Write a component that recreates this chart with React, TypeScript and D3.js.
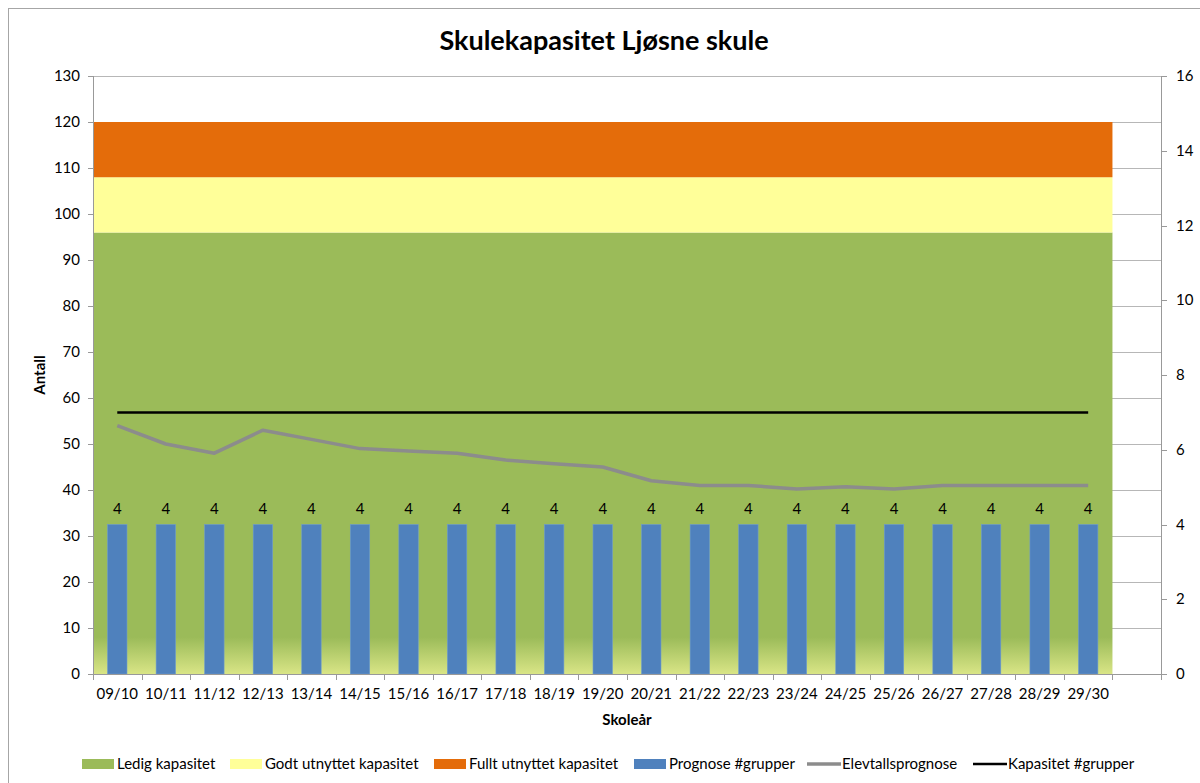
import React from "react";
import * as d3 from "d3";

// Skulekapasitet Ljøsne skule - combo chart (stacked areas + bars + lines, dual axis)
const skoleaar = [
  "09/10", "10/11", "11/12", "12/13", "13/14", "14/15", "15/16", "16/17", "17/18", "18/19", "19/20",
  "20/21", "21/22", "22/23", "23/24", "24/25", "25/26", "26/27", "27/28", "28/29", "29/30",
];

const ledigKapasitet = [96, 96, 96, 96, 96, 96, 96, 96, 96, 96, 96, 96, 96, 96, 96, 96, 96, 96, 96, 96, 96];
const godtUtnyttet = [12, 12, 12, 12, 12, 12, 12, 12, 12, 12, 12, 12, 12, 12, 12, 12, 12, 12, 12, 12, 12];
const fulltUtnyttet = [12, 12, 12, 12, 12, 12, 12, 12, 12, 12, 12, 12, 12, 12, 12, 12, 12, 12, 12, 12, 12];
const prognoseGrupper = [4, 4, 4, 4, 4, 4, 4, 4, 4, 4, 4, 4, 4, 4, 4, 4, 4, 4, 4, 4, 4];
const elevtallsprognose = [54, 50, 48, 53, 51, 49, 48.5, 48, 46.5, 45.7, 45, 42, 41, 41, 40.2, 40.7, 40.2, 41, 41, 41, 41];
const kapasitetGrupper = [7, 7, 7, 7, 7, 7, 7, 7, 7, 7, 7, 7, 7, 7, 7, 7, 7, 7, 7, 7, 7];

const leftTicks = [0, 10, 20, 30, 40, 50, 60, 70, 80, 90, 100, 110, 120, 130];
const rightTicks = [0, 2, 4, 6, 8, 10, 12, 14, 16];

const FONT = "Lato, 'Open Sans', sans-serif";

const App = () => {
  const left = 93;
  const right = 1161;
  const top = 76;
  const bottom = 674;

  // one empty slot at the end, as in the original category axis
  const x = d3.scaleBand<string>().domain([...skoleaar, ""]).range([left, right]).padding(0);
  const bw = x.bandwidth();
  const yL = d3.scaleLinear().domain([0, 130]).range([bottom, top]);
  const yR = d3.scaleLinear().domain([0, 16]).range([bottom, top]);

  const stack = skoleaar.map((c, i) => ({
    c,
    a: ledigKapasitet[i],
    b: ledigKapasitet[i] + godtUtnyttet[i],
    t: ledigKapasitet[i] + godtUtnyttet[i] + fulltUtnyttet[i],
  }));
  // each category covers its whole band
  const edges = stack.flatMap((d) => [
    { ...d, px: x(d.c)! },
    { ...d, px: x(d.c)! + bw },
  ]);

  const areaGen = (lo: (d: any) => number, hi: (d: any) => number) =>
    d3.area<any>().x((d) => d.px).y0((d) => yL(lo(d))).y1((d) => yL(hi(d)))(edges) || "";

  const cx = (c: string) => x(c)! + bw / 2;
  const lineL = d3.line<number>().x((_, i) => cx(skoleaar[i])).y((v) => yL(v));
  const lineR = d3.line<number>().x((_, i) => cx(skoleaar[i])).y((v) => yR(v));

  const barW = bw * 0.4;
  const grid = "#b7b7b7";

  const legend = [
    { kind: "rect", color: "#9bbb59", label: "Ledig kapasitet", x: 82 },
    { kind: "rect", color: "#ffff99", label: "Godt utnyttet kapasitet", x: 230 },
    { kind: "rect", color: "#e46c0a", label: "Fullt utnyttet kapasitet", x: 434 },
    { kind: "rect", color: "#4f81bd", label: "Prognose #grupper", x: 634 },
    { kind: "line", color: "#8c8c8c", label: "Elevtallsprognose", x: 807 },
    { kind: "line", color: "#000000", label: "Kapasitet #grupper", x: 973 },
  ];

  return (
    <svg width={1200} height={783} style={{ position: "absolute", left: 0, top: 0, background: "#fff" }} fontFamily={FONT}>
      <defs>
        <linearGradient id="ledigGrad" gradientUnits="userSpaceOnUse" x1={0} x2={0} y1={yL(8)} y2={yL(0)}>
          <stop offset="0" stopColor="#9bbb59" />
          <stop offset="1" stopColor="#d9e586" />
        </linearGradient>
      </defs>
      <rect x={8.5} y={8.5} width={1250} height={850} fill="none" stroke="#a6a6a6" />

      <text x={604} y={50} textAnchor="middle" fontSize={27} fontWeight="bold" fill="#000">
        Skulekapasitet Ljøsne skule
      </text>

      {/* gridlines */}
      {leftTicks.map((t) => (
        <line key={t} x1={left} x2={right} y1={Math.round(yL(t)) + 0.5} y2={Math.round(yL(t)) + 0.5} stroke={grid} />
      ))}

      {/* stacked capacity areas */}
      <path d={areaGen(() => 0, (d) => d.a)} fill="url(#ledigGrad)" />
      <path d={areaGen((d) => d.a, (d) => d.b)} fill="#ffff99" />
      <path d={areaGen((d) => d.b, (d) => d.t)} fill="#e46c0a" />

      {/* bars on secondary axis */}
      {skoleaar.map((c, i) => (
        <g key={c}>
          <rect
            x={cx(c) - barW / 2}
            y={yR(prognoseGrupper[i])}
            width={barW}
            height={yR(0) - yR(prognoseGrupper[i])}
            fill="#4f81bd"
            stroke="#6d9bd0"
            strokeWidth={0.6}
          />
          <text x={cx(c)} y={yR(prognoseGrupper[i]) - 11} textAnchor="middle" fontSize={15} fill="#000">
            {prognoseGrupper[i]}
          </text>
        </g>
      ))}

      <path d={lineL(elevtallsprognose) || ""} fill="none" stroke="#8c8c8c" strokeWidth={3.5} strokeLinejoin="round" />
      <path d={lineR(kapasitetGrupper) || ""} fill="none" stroke="#000" strokeWidth={2.5} />

      {/* axes */}
      <line x1={left + 0.5} x2={left + 0.5} y1={top} y2={bottom + 6} stroke="#999" />
      <line x1={right + 0.5} x2={right + 0.5} y1={top} y2={bottom + 6} stroke="#999" />
      <line x1={left} x2={right + 1} y1={bottom + 0.5} y2={bottom + 0.5} stroke="#999" />
      {leftTicks.map((t) => (
        <g key={t}>
          <line x1={left - 5} x2={left} y1={Math.round(yL(t)) + 0.5} y2={Math.round(yL(t)) + 0.5} stroke="#999" />
          <text x={80} y={yL(t) + 5} textAnchor="end" fontSize={15} fill="#000">
            {t}
          </text>
        </g>
      ))}
      {rightTicks.map((t) => (
        <g key={t}>
          <line x1={right} x2={right + 6} y1={Math.round(yR(t)) + 0.5} y2={Math.round(yR(t)) + 0.5} stroke="#999" />
          <text x={1176} y={yR(t) + 5} textAnchor="start" fontSize={15} fill="#000">
            {t}
          </text>
        </g>
      ))}
      {x.domain().map((c) => (
        <line key={"t" + c} x1={Math.round(x(c)!) + 0.5} x2={Math.round(x(c)!) + 0.5} y1={bottom} y2={bottom + 6} stroke="#999" />
      ))}
      {skoleaar.map((c) => (
        <text key={"l" + c} x={cx(c)} y={699} textAnchor="middle" fontSize={15} fill="#000">
          {c}
        </text>
      ))}

      <text x={(left + right) / 2} y={725} textAnchor="middle" fontSize={15} fontWeight="bold">
        Skoleår
      </text>
      <text transform={`translate(45,375) rotate(-90)`} textAnchor="middle" fontSize={15} fontWeight="bold">
        Antall
      </text>

      {/* legend */}
      {legend.map((l) => (
        <g key={l.label}>
          {l.kind === "rect" ? (
            <rect x={l.x} y={759} width={32} height={10} fill={l.color} />
          ) : (
            <line x1={l.x} x2={l.x + 34} y1={764} y2={764} stroke={l.color} strokeWidth={l.color === "#000000" ? 2.5 : 3.5} />
          )}
          <text x={l.x + 35} y={769} fontSize={15} fill="#000">
            {l.label}
          </text>
        </g>
      ))}
    </svg>
  );
};

export default App;
